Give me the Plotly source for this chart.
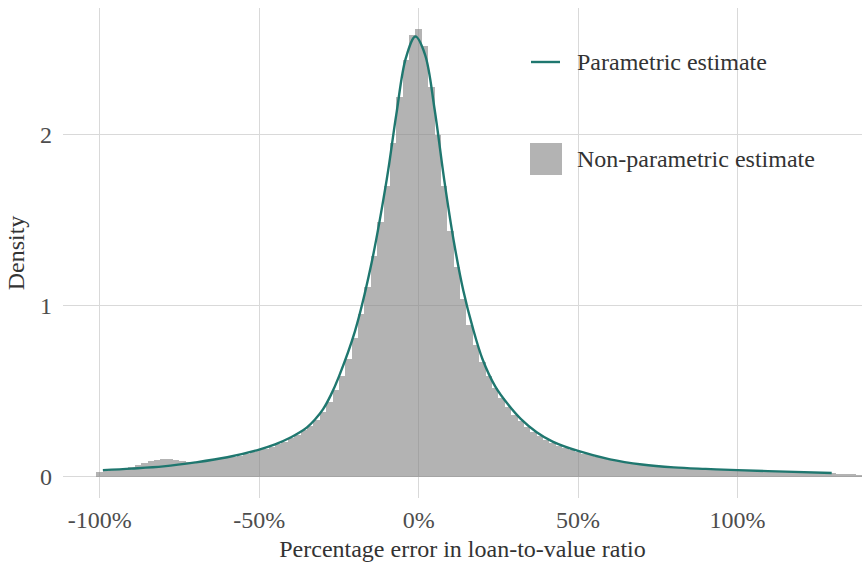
import plotly.graph_objects as go

# ---- Data ----
bin_centers = [round(-1.0 + 0.02 * i, 2) for i in range(120)]
hist_density = [
    0.027, 0.036, 0.040, 0.044, 0.050, 0.058, 0.068, 0.080, 0.092, 0.100,
    0.105, 0.104, 0.100, 0.095, 0.090, 0.086, 0.088, 0.092, 0.097, 0.103,
    0.110, 0.117, 0.125, 0.134, 0.144, 0.155, 0.166, 0.178, 0.191, 0.206,
    0.225, 0.248, 0.272, 0.300, 0.335, 0.378, 0.440, 0.510, 0.590, 0.690,
    0.810, 0.950, 1.110, 1.290, 1.490, 1.700, 1.950, 2.220, 2.440, 2.585,
    2.620, 2.520, 2.280, 2.000, 1.700, 1.440, 1.230, 1.040, 0.890, 0.770,
    0.670, 0.590, 0.520, 0.460, 0.410, 0.365, 0.325, 0.292, 0.262, 0.237,
    0.217, 0.198, 0.183, 0.170, 0.158, 0.147, 0.137, 0.127, 0.118, 0.110,
    0.101, 0.094, 0.086, 0.080, 0.075, 0.070, 0.066, 0.062, 0.059, 0.056,
    0.053, 0.051, 0.049, 0.047, 0.046, 0.044, 0.043, 0.041, 0.040, 0.039,
    0.038, 0.037, 0.036, 0.035, 0.034, 0.033, 0.032, 0.031, 0.030, 0.029,
    0.028, 0.027, 0.026, 0.025, 0.024, 0.023, 0.016, 0.015, 0.015, 0.014,
]

curve_x = [-0.99, -0.90, -0.80, -0.70, -0.60, -0.50, -0.45, -0.40, -0.375, -0.35,
           -0.325, -0.30, -0.275, -0.25, -0.20, -0.15, -0.10, -0.07, -0.04, -0.01,
           0.02, 0.05, 0.08, 0.11, 0.14, 0.17, 0.20, 0.24, 0.28, 0.32,
           0.37, 0.42, 0.50, 0.60, 0.70, 0.80, 0.90, 1.00, 1.15, 1.295]
curve_y = [0.040, 0.049, 0.062, 0.085, 0.115, 0.160, 0.190, 0.232, 0.258, 0.290,
           0.336, 0.395, 0.480, 0.587, 0.850, 1.230, 1.740, 2.120, 2.450, 2.575,
           2.470, 2.150, 1.740, 1.380, 1.090, 0.870, 0.690, 0.530, 0.425, 0.340,
           0.262, 0.207, 0.152, 0.103, 0.073, 0.056, 0.047, 0.040, 0.031, 0.023]

x_tickvals = [-1.0, -0.5, 0.0, 0.5, 1.0]
x_ticktext = ["-100%", "-50%", "0%", "50%", "100%"]
y_tickvals = [0, 1, 2]
y_ticktext = ["0", "1", "2"]

legend_labels = ["Parametric estimate", "Non-parametric estimate"]

LINE_COLOR = "#1f776f"
BAR_COLOR = "rgba(128,128,128,0.6)"
GRID_COLOR = "#d9d9d9"
FONT = "Liberation Serif, Times New Roman, serif"

fig = go.Figure()
fig.add_trace(go.Bar(x=bin_centers, y=hist_density, width=0.02,
                     marker=dict(color=BAR_COLOR, line=dict(width=0)),
                     name=legend_labels[1], showlegend=False, hoverinfo="x+y"))
fig.add_trace(go.Scatter(x=curve_x, y=curve_y, mode="lines",
                         line=dict(color=LINE_COLOR, width=2.4, shape="spline", smoothing=1.0),
                         name=legend_labels[0], showlegend=False))

# Plot area in pixels: x 63..862, y 8..498
L, R, T, B = 63, 862, 8, 498
W, H = R - L, B - T
def px(x):
    return (x - L) / W
def py(y):
    return (B - y) / H

shapes = [
    # legend key backgrounds (white, above grid)
    dict(type="rect", xref="paper", yref="paper", x0=px(516), x1=px(833), y0=py(92), y1=py(22),
         fillcolor="white", line=dict(width=0), layer="between"),
    dict(type="rect", xref="paper", yref="paper", x0=px(516), x1=px(833), y0=py(190), y1=py(117),
         fillcolor="white", line=dict(width=0), layer="between"),
    # legend symbols
    dict(type="line", xref="paper", yref="paper", x0=px(531), x1=px(560), y0=py(62), y1=py(62),
         line=dict(color=LINE_COLOR, width=2.4), layer="above"),
    dict(type="rect", xref="paper", yref="paper", x0=px(530), x1=px(562), y0=py(175), y1=py(143),
         fillcolor=BAR_COLOR, line=dict(width=0), layer="above"),
]
annotations = [
    dict(text=legend_labels[0], xref="paper", yref="paper", x=px(575), y=py(62),
         xanchor="left", yanchor="middle", showarrow=False,
         font=dict(family=FONT, size=24, color="#333333")),
    dict(text=legend_labels[1], xref="paper", yref="paper", x=px(575), y=py(159),
         xanchor="left", yanchor="middle", showarrow=False,
         font=dict(family=FONT, size=24, color="#333333")),
]

fig.update_layout(
    width=862, height=566,
    margin=dict(l=L, r=862 - R, t=T, b=566 - B),
    plot_bgcolor="white", paper_bgcolor="white",
    bargap=0,
    font=dict(family=FONT, size=24, color="#4d4d4d"),
    shapes=shapes, annotations=annotations,
    showlegend=False,
    xaxis=dict(range=[-1.115, 1.39], tickvals=x_tickvals, ticktext=x_ticktext,
               showgrid=True, gridcolor=GRID_COLOR, gridwidth=1, zeroline=False,
               showline=False, ticks="", ticklabelstandoff=5,
               tickfont=dict(size=24, color="#4d4d4d"),
               title=dict(text="Percentage error in loan-to-value ratio",
                          font=dict(size=24, color="#333333"), standoff=8)),
    yaxis=dict(range=[-0.123, 2.742], tickvals=y_tickvals, ticktext=y_ticktext,
               showgrid=True, gridcolor=GRID_COLOR, gridwidth=1, zeroline=False,
               showline=False, ticks="", ticklabelstandoff=10,
               tickfont=dict(size=24, color="#4d4d4d"),
               title=dict(text="Density", font=dict(size=24, color="#333333"), standoff=8)),
)

fig.write_html("out.html")
